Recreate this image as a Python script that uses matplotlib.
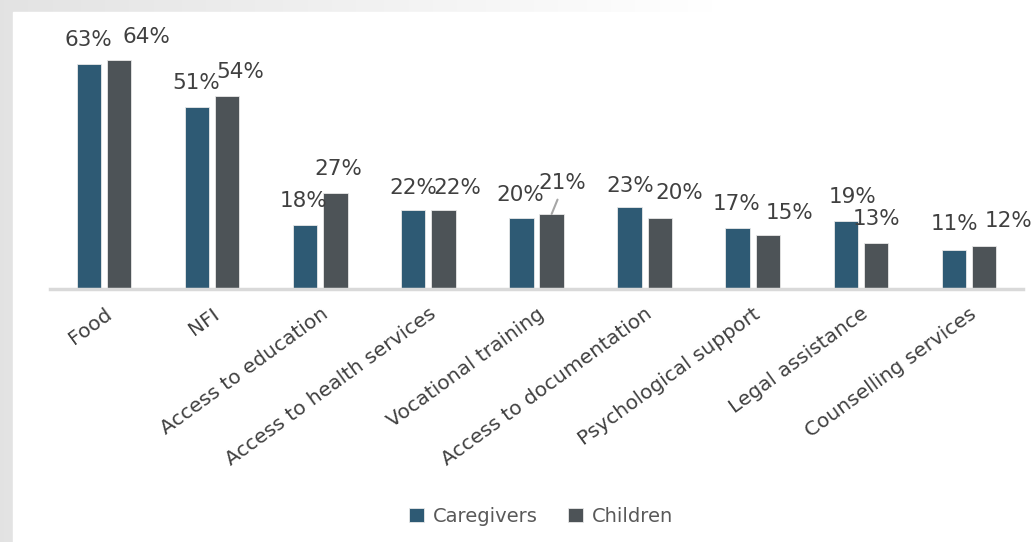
import numpy as np
import matplotlib.pyplot as plt
from matplotlib.patches import Rectangle

plt.rcParams['font.family'] = ['DejaVu Sans']

categories = ["Food", "NFI", "Access to education", "Access to health services",
              "Vocational training", "Access to documentation", "Psychological support",
              "Legal assistance", "Counselling services"]
caregivers = [63, 51, 18, 22, 20, 23, 17, 19, 11]
children = [64, 54, 27, 22, 21, 20, 15, 13, 12]

# label nudges (pixels, right / up from the bar top)
cg_offsets = [(-1, 24), (-1, 24), (-2, 24), (0, 22), (-1, 23), (1, 21), (-1, 24), (7, 24), (1, 26)]
ch_offsets = [(27, 23), (13, 24), (3, 24), (14, 22), (11, 31), (20, 25), (22, 22), (1, 24), (24, 25)]

c_cg = "#2e5a74"
c_ch = "#4d5357"
txt = "#404040"

W, H = 1036, 542
fig = plt.figure(figsize=(W / 100, H / 100), dpi=100)

# slide background: grey fading to white, with a white panel
bg = fig.add_axes([0, 0, 1, 1])
bg.set_axis_off()
grad = np.clip(np.linspace(0.89, 1.05, 256), 0, 1)
img = np.dstack([grad, grad, grad]).repeat(2, axis=0)
bg.imshow(img, aspect="auto", extent=[0, 1, 0, 1])
bg.add_patch(Rectangle((13 / W, 0), 1, 1 - 12 / H, color="white", transform=bg.transAxes))
bg.set_xlim(0, 1)
bg.set_ylim(0, 1)

ax = fig.add_axes([50 / W, 253 / H, 973 / W, 250 / H])
ax.set_facecolor("none")
x = np.arange(len(categories))
w = 0.225
ax.bar(x - 0.14, caregivers, w, color=c_cg, edgecolor="#e8e8e8", linewidth=0.6, label="Caregivers")
ax.bar(x + 0.14, children, w, color=c_ch, edgecolor="#e8e8e8", linewidth=0.6, label="Children")

for i in range(len(categories)):
    ax.annotate(f"{caregivers[i]}%", (x[i] - 0.14, caregivers[i]), xytext=cg_offsets[i],
                textcoords="offset pixels", ha="center", va="center",
                fontsize=15.5, color=txt, annotation_clip=False)
    if categories[i] == "Vocational training":
        ax.annotate(f"{children[i]}%", (x[i] + 0.14, children[i]), xytext=ch_offsets[i],
                    textcoords="offset pixels", ha="center", va="center",
                    fontsize=15.5, color=txt, annotation_clip=False,
                    arrowprops=dict(arrowstyle="-", color="#a6a6a6", lw=1.5,
                                    relpos=(0.45, 0), shrinkA=3, shrinkB=0))
    else:
        ax.annotate(f"{children[i]}%", (x[i] + 0.14, children[i]), xytext=ch_offsets[i],
                    textcoords="offset pixels", ha="center", va="center",
                    fontsize=15.5, color=txt, annotation_clip=False)

ax.set_xlim(-0.5, len(categories) - 0.5)
ax.set_ylim(0, 70)
for s in ["top", "right", "left"]:
    ax.spines[s].set_visible(False)
ax.spines["bottom"].set_color("#d9d9d9")
ax.spines["bottom"].set_linewidth(2.5)
ax.set_yticks([])
ax.set_xticks(x)
ax.set_xticklabels(categories, rotation=36, ha="right", rotation_mode="anchor",
                   fontsize=14.5, color=txt)
ax.tick_params(axis="x", length=0, pad=11)

fig.legend(loc="center", bbox_to_anchor=(541 / W, 1 - 516 / H), ncol=2, frameon=False,
           fontsize=14, labelcolor="#595959", handlelength=0.75, handleheight=0.75,
           handletextpad=0.45, columnspacing=1.6)

fig.savefig("out.png", dpi=100)
